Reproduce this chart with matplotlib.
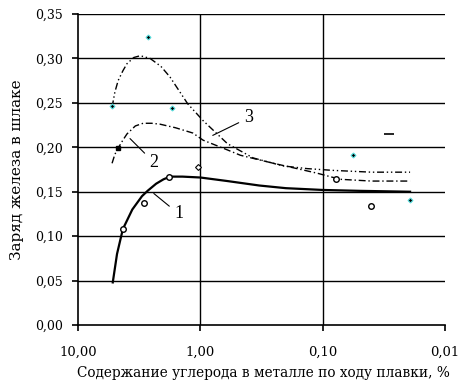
import numpy as np
import matplotlib
matplotlib.use('Agg')
import matplotlib.pyplot as plt
from matplotlib.ticker import FixedLocator, FixedFormatter, NullLocator

plt.rcParams['font.family'] = ['DejaVu Serif']

# ----------
# Data

# curve 1 (solid, thick)
c1_x = [5.2, 4.8, 4.3, 3.6, 3.0, 2.7, 2.3, 2.0, 1.77, 1.4, 1.0, 0.6, 0.33, 0.2, 0.1, 0.05, 0.0193]
c1_y = [0.048, 0.080, 0.108, 0.130, 0.145, 0.151, 0.159, 0.164, 0.167, 0.167, 0.166, 0.162, 0.157, 0.154, 0.152, 0.151, 0.150]

# curve 2 (dash-dot)
c2_x = [5.27, 5.0, 4.7, 4.3, 3.98, 3.4, 2.94, 2.5, 2.14, 1.6, 1.15, 0.95, 0.6, 0.47, 0.253, 0.112, 0.072, 0.04, 0.0193]
c2_y = [0.182, 0.192, 0.199, 0.208, 0.215, 0.224, 0.227, 0.227, 0.226, 0.222, 0.216, 0.208, 0.197, 0.191, 0.182, 0.171, 0.164, 0.162, 0.162]

# curve 3 (dashed)
c3_x = [5.27, 5.0, 4.7, 4.3, 3.98, 3.5, 3.1, 2.58, 2.1, 1.77, 1.27, 0.95, 0.6, 0.37, 0.21, 0.134, 0.082, 0.04, 0.0193]
c3_y = [0.245, 0.262, 0.275, 0.286, 0.294, 0.301, 0.303, 0.300, 0.291, 0.279, 0.249, 0.230, 0.204, 0.188, 0.179, 0.176, 0.174, 0.172, 0.172]

# measured points
dia_x = [5.3, 2.68, 1.70, 0.0564, 0.0193]
dia_y = [0.246, 0.324, 0.244, 0.191, 0.141]
circ_x = [4.3, 2.88, 1.80, 0.0776, 0.0402]
circ_y = [0.108, 0.137, 0.167, 0.164, 0.134]
dash_x = [0.0286]
dash_y = [0.2145]
small_x = [1.05]
small_y = [0.178]
dot_x = [4.7]
dot_y = [0.199]

xticks = [10, 1, 0.1, 0.01]
xlabels = ['10,00', '1,00', '0,10', '0,01']
yticks = [0, 0.05, 0.10, 0.15, 0.20, 0.25, 0.30, 0.35]
ylabels = ['0,00', '0,05', '0,10', '0,15', '0,20', '0,25', '0,30', '0,35']

# ----------

fig = plt.figure(figsize=(4.59, 3.87), dpi=100, facecolor='white')
ax = fig.add_axes([0.170, 0.160, 0.7995, 0.804])

ax.set_xscale('log')
ax.set_xlim(10, 0.01)
ax.set_ylim(0, 0.35)

for side in ['top', 'right']:
    ax.spines[side].set_visible(False)
for side in ['left', 'bottom']:
    ax.spines[side].set_linewidth(1.2)

ax.xaxis.set_major_locator(FixedLocator(xticks))
ax.xaxis.set_major_formatter(FixedFormatter(xlabels))
ax.xaxis.set_minor_locator(NullLocator())
ax.set_yticks(yticks)
ax.set_yticklabels(ylabels)
ax.tick_params(axis='both', direction='out', length=4, width=1.2, labelsize=9.5)
ax.tick_params(axis='x', pad=11)
ax.tick_params(axis='y', pad=7, labelsize=9)

for y in yticks[1:]:
    ax.axhline(y, color='black', lw=1.0, zorder=0)
for x in [1, 0.1]:
    ax.axvline(x, color='black', lw=1.0, zorder=0)

ax.plot(c1_x, c1_y, color='black', lw=1.6)
ax.plot(c2_x, c2_y, color='black', lw=1.0, ls=(0, (5, 2, 1, 2)))
ax.plot(c3_x, c3_y, color='black', lw=1.0, ls=(0, (5, 2, 1, 2, 1, 2)))

ax.plot(dia_x, dia_y, 'D', ms=2.5, mfc='black', mec='#55dddd', mew=0.8, ls='none')
ax.plot(circ_x, circ_y, 'o', ms=4, mfc='white', mec='black', mew=1.0, ls='none')
ax.plot(dash_x, dash_y, '_', ms=7, color='black', mew=1.2, ls='none')
ax.plot(small_x, small_y, 'D', ms=3, mfc='white', mec='black', mew=0.8, ls='none')
ax.plot(dot_x, dot_y, 's', ms=2.5, color='black', ls='none')

# curve labels with leader lines
lab = dict(fontsize=13, family='Liberation Serif', va='center')
ax.annotate('3', xy=(0.83, 0.212), xytext=(0.44, 0.233), ha='left',
            arrowprops=dict(arrowstyle='-', lw=0.8, color='black'), **lab)
ax.annotate('2', xy=(3.9, 0.212), xytext=(2.4, 0.183), ha='center',
            arrowprops=dict(arrowstyle='-', lw=0.8, color='black'), **lab)
ax.annotate('1', xy=(2.5, 0.150), xytext=(1.5, 0.125), ha='center',
            arrowprops=dict(arrowstyle='-', lw=0.8, color='black'), **lab)

ax.set_xlabel('Содержание углерода в металле по ходу плавки, %', fontsize=9.8)
ax.xaxis.set_label_coords(0.505, -0.132)
ax.set_ylabel('Заряд железа в шлаке', fontsize=11, labelpad=8)

fig.savefig('out.png', dpi=100, facecolor='white')
